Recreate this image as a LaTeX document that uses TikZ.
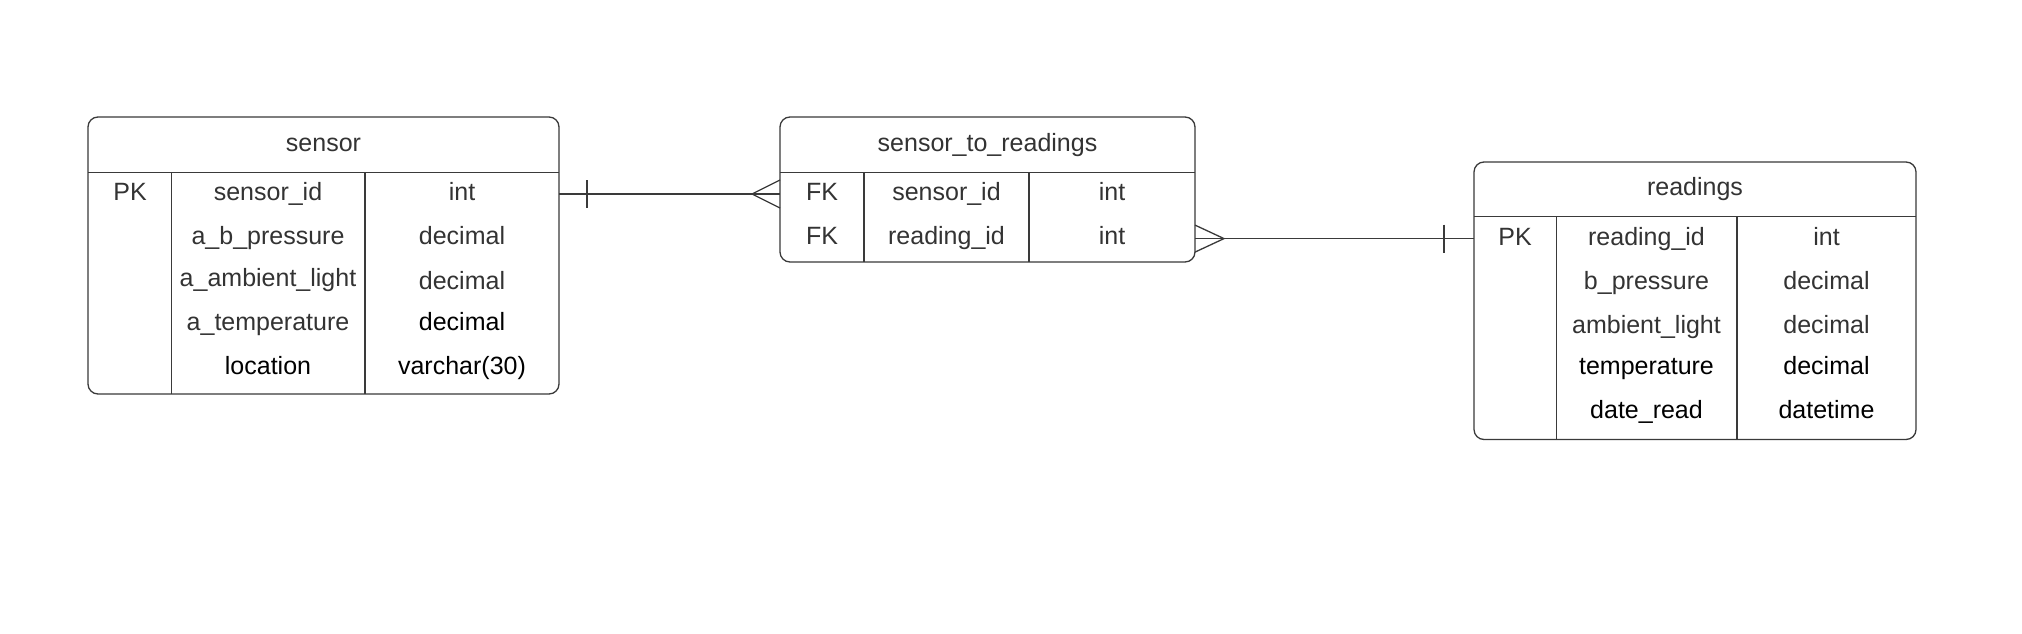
\documentclass[tikz,border=0pt]{standalone}
\usepackage{fontspec}
\setmainfont{Liberation Sans}
\definecolor{linec}{HTML}{3A3A3A}
\definecolor{txtg}{HTML}{333333}
\begin{document}
\begin{tikzpicture}[x=1pt,y=-1pt,
  tbl/.style={draw=linec, line width=1.3pt, rounded corners=10pt, inner sep=0pt, outer sep=0pt},
  rule/.style={draw=linec, line width=1.3pt},
  cell/.style={anchor=mid, inner sep=0pt, yshift=-6.5pt, text=txtg, font=\fontsize{25}{29}\selectfont},
  cellk/.style={cell, text=black},
  conn/.style={draw=linec, line width=1.3pt}]
\useasboundingbox (0,0) rectangle (2022,634);
\fill[white] (0,0) rectangle (2022,634);

% ---------- sensor ----------
\node[tbl, minimum width=471pt, minimum height=277pt, anchor=north west] (sensor) at (88,117) {};
\draw[rule] (sensor.west |- 0,172.5) -- (sensor.east |- 0,172.5);
\draw[rule] (171.5,172.5) -- (sensor.south -| 171.5,0);
\draw[rule] (365,172.5) -- (sensor.south -| 365,0);
\node[cell] (s-title) at (323.5,142) {sensor};
\node[cell] (s-pk) at (130,191) {PK};
\node[cell] (s-n1) at (268,191) {sensor\_id};
\node[cell] (s-t1) at (462,191) {int};
\node[cell] (s-n2) at (268,235) {a\_b\_pressure};
\node[cell] (s-t2) at (462,235) {decimal};
\node[cell] (s-n3) at (268,277) {a\_ambient\_light};
\node[cell] (s-t3) at (462,280) {decimal};
\node[cell] (s-n4) at (268,321) {a\_temperature};
\node[cellk] (s-t4) at (462,321) {decimal};
\node[cellk] (s-n5) at (268,365) {location};
\node[cellk] (s-t5) at (462,365) {varchar(30)};

% ---------- sensor_to_readings ----------
\node[tbl, minimum width=415pt, minimum height=145pt, anchor=north west] (str) at (780,117) {};
\draw[rule] (str.west |- 0,172.5) -- (str.east |- 0,172.5);
\draw[rule] (864,172.5) -- (str.south -| 864,0);
\draw[rule] (1029,172.5) -- (str.south -| 1029,0);
\node[cell] (m-title) at (987.5,142) {sensor\_to\_readings};
\node[cell] (m-fk1) at (822,191) {FK};
\node[cell] (m-n1) at (946.5,191) {sensor\_id};
\node[cell] (m-t1) at (1112,191) {int};
\node[cell] (m-fk2) at (822,235) {FK};
\node[cell] (m-n2) at (946.5,235) {reading\_id};
\node[cell] (m-t2) at (1112,235) {int};

% ---------- readings ----------
\node[tbl, minimum width=442pt, minimum height=277.5pt, anchor=north west] (readings) at (1474,162) {};
\draw[rule] (readings.west |- 0,216.6) -- (readings.east |- 0,216.6);
\draw[rule] (1556.5,216.6) -- (readings.south -| 1556.5,0);
\draw[rule] (1737,216.6) -- (readings.south -| 1737,0);
\node[cell] (r-title) at (1695,186) {readings};
\node[cell] (r-pk) at (1515,236) {PK};
\node[cell] (r-n1) at (1646.5,236) {reading\_id};
\node[cell] (r-t1) at (1826.5,236) {int};
\node[cell] (r-n2) at (1646.5,280) {b\_pressure};
\node[cell] (r-t2) at (1826.5,280) {decimal};
\node[cell] (r-n3) at (1646.5,324) {ambient\_light};
\node[cell] (r-t3) at (1826.5,324) {decimal};
\node[cellk] (r-n4) at (1646.5,365) {temperature};
\node[cellk] (r-t4) at (1826.5,365) {decimal};
\node[cellk] (r-n5) at (1646.5,409) {date\_read};
\node[cellk] (r-t5) at (1826.5,409) {datetime};

% ---------- connectors ----------
\coordinate (c1a) at (sensor.east |- 0,194);
\coordinate (c1b) at (str.west |- 0,194);
\draw[conn] (c1a) -- (c1b);
\draw[conn] ([xshift=28pt,yshift=14pt]c1a) -- ([xshift=28pt,yshift=-14pt]c1a);
\draw[conn] ([yshift=14pt]c1b) -- ([xshift=-28pt]c1b) -- ([yshift=-14pt]c1b);

\coordinate (c2a) at (str.east |- 0,238.6);
\coordinate (c2b) at (readings.west |- 0,238.6);
\draw[conn] (c2a) -- (c2b);
\draw[conn] ([yshift=13.5pt]c2a) -- ([xshift=29pt]c2a) -- ([yshift=-13.5pt]c2a);
\draw[conn] ([xshift=-30pt,yshift=14pt]c2b) -- ([xshift=-30pt,yshift=-14pt]c2b);
\end{tikzpicture}
\end{document}
